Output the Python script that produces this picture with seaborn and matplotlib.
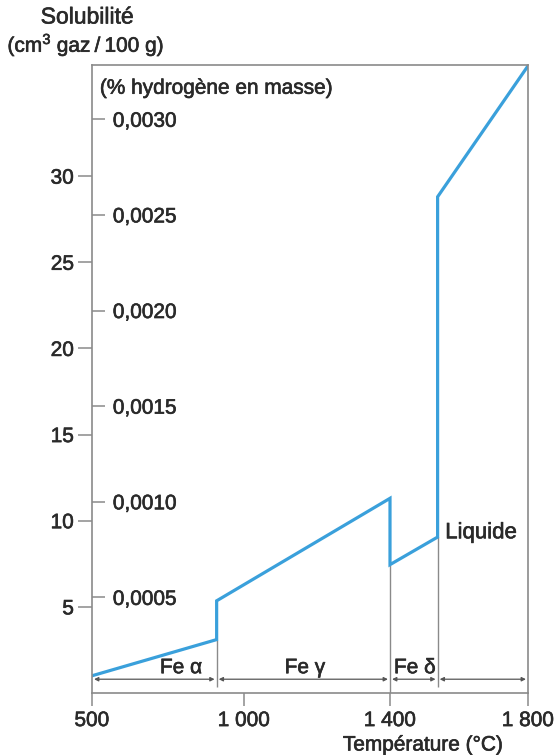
import numpy as np
import pandas as pd
import matplotlib
matplotlib.use("Agg")
import matplotlib.pyplot as plt
import matplotlib.patheffects as pe
import seaborn as sns

# Hydrogen solubility in iron as a function of temperature
temperature = [500, 910, 910, 1400, 1400, 1538, 1538, 1800]
solubility = [1.0, 3.1, 5.35, 11.3, 7.45, 9.05, 28.8, 36.4]

# Phase domains along the temperature axis
phase_bounds = [500, 910, 1400, 1538, 1800]
phase_names = ["Fe α", "Fe γ", "Fe δ"]
phase_label_x = [793, 1167, 1472]

x_ticks = [500, 1000, 1400, 1800]
x_tick_labels = ["500", "1 000", "1 400", "1 800"]
y_ticks = [5, 10, 15, 20, 25, 30]
pct_ticks = [0.0005, 0.0010, 0.0015, 0.0020, 0.0025, 0.0030]
pct_tick_labels = ["0,0005", "0,0010", "0,0015", "0,0020", "0,0025", "0,0030"]

# 1 ppm (0.0001 % mass) of hydrogen ~ 1.11 cm3 gas / 100 g
CM3_PER_PCT = 11100

sns.set_style("ticks")
plt.rcParams["font.family"] = ["Liberation Sans", "DejaVu Sans"]
plt.rcParams["mathtext.fontset"] = "custom"
plt.rcParams["mathtext.rm"] = "Liberation Sans"
plt.rcParams["mathtext.it"] = "Liberation Sans:italic"
plt.rcParams["mathtext.bf"] = "Liberation Sans:bold"

TEXT = "#2a2a2a"
GREY = "#8a8a8a"
BLUE = "#3aa0db"
FS = 15
# slightly heavier strokes for all the lettering
HEAVY = [pe.withStroke(linewidth=0.45, foreground=TEXT)]

df = pd.DataFrame({"T": temperature, "S": solubility})

fig = plt.figure(figsize=(5.58, 7.55), dpi=100)
ax = fig.add_axes([92 / 558, 1 - 693 / 755, 436 / 558, 628 / 755])

# Temperature axis as drawn on the diagram: piecewise-linear between graduations
_t = np.array([500.0, 1000.0, 1400.0, 1800.0])
_p = np.array([0.0, 152.0, 298.0, 436.0]) / 436.0


def _fwd(x):
    return np.interp(x, _t, _p)


def _inv(p):
    return np.interp(p, _p, _t)


ax.set_xscale("function", functions=(_fwd, _inv))

sns.lineplot(data=df, x="T", y="S", sort=False, estimator=None,
             color=BLUE, lw=2.3, ax=ax, solid_joinstyle="miter")

ax.set_xlim(500, 1800)
ax.set_ylim(0, 36.45)

# Phase boundaries below the curve
ax.vlines(910, 0.35, 3.1, color=GREY, lw=1.0, zorder=1)
ax.vlines(1400, 0.0, 7.45, color=GREY, lw=1.0, zorder=1)
ax.vlines(1538, 0.35, 9.05, color=GREY, lw=1.0, zorder=1)

# Double-headed arrows for each phase domain
arrow_y = 0.8
for a, b in zip(phase_bounds[:-1], phase_bounds[1:]):
    ax.annotate("", xy=(a, arrow_y), xytext=(b, arrow_y),
                arrowprops=dict(arrowstyle="<|-|>", color="#555555", lw=0.9,
                                mutation_scale=6, shrinkA=1.5, shrinkB=1.5))
for name, x in zip(phase_names, phase_label_x):
    ax.text(x, 1.15, name, ha="center", va="baseline", fontsize=FS,
            color=TEXT, path_effects=HEAVY)

ax.text(1560, 9.3, "Liquide", ha="left", va="center", fontsize=FS + 1,
        color=TEXT, path_effects=HEAVY)

# Axes styling
for s in ax.spines.values():
    s.set_color(GREY)
    s.set_linewidth(1.2)
ax.set_xticks(x_ticks, labels=x_tick_labels)
ax.set_yticks(y_ticks, labels=[str(v) for v in y_ticks])
ax.minorticks_off()
ax.tick_params(axis="x", length=9, width=1.1, color=GREY, pad=4,
               labelsize=FS, labelcolor=TEXT)
ax.tick_params(axis="y", length=10, width=1.1, color=GREY, pad=3,
               labelsize=FS, labelcolor=TEXT)
ax.set_xlabel("")
ax.set_ylabel("")

# Mass-percent scale drawn inside, along the left spine
sec = ax.secondary_yaxis(0, functions=(lambda y: y / CM3_PER_PCT,
                                       lambda p: p * CM3_PER_PCT))
sec.set_alignment("right")
sec.spines["right"].set_visible(False)
sec.spines["left"].set_visible(False)
sec.set_yticks(pct_ticks, labels=pct_tick_labels)
sec.minorticks_off()
sec.tick_params(axis="y", length=9, width=1.1, color=GREY, pad=6,
                labelsize=FS, labelcolor=TEXT)

for lab in ax.get_xticklabels() + ax.get_yticklabels() + sec.get_yticklabels():
    lab.set_path_effects(HEAVY)

ax.text(0.018, 0.963, "(% hydrogène en masse)", transform=ax.transAxes,
        ha="left", va="center", fontsize=FS, color=TEXT, path_effects=HEAVY)

fig.text(87 / 558, 1 - 17 / 755, "Solubilité", ha="center", va="center",
         fontsize=FS + 1.5, color=TEXT, path_effects=HEAVY)
fig.text(86 / 558, 1 - 45 / 755, "(cm$^{3}$ gaz\u2009/\u2009100 g)",
         ha="center", va="center", fontsize=FS, color=TEXT, path_effects=HEAVY)
fig.text(423 / 558, 1 - 745 / 755, "Température (°C)", ha="center",
         va="center", fontsize=FS, color=TEXT, path_effects=HEAVY)

fig.savefig("out.png", dpi=100, facecolor="white")
